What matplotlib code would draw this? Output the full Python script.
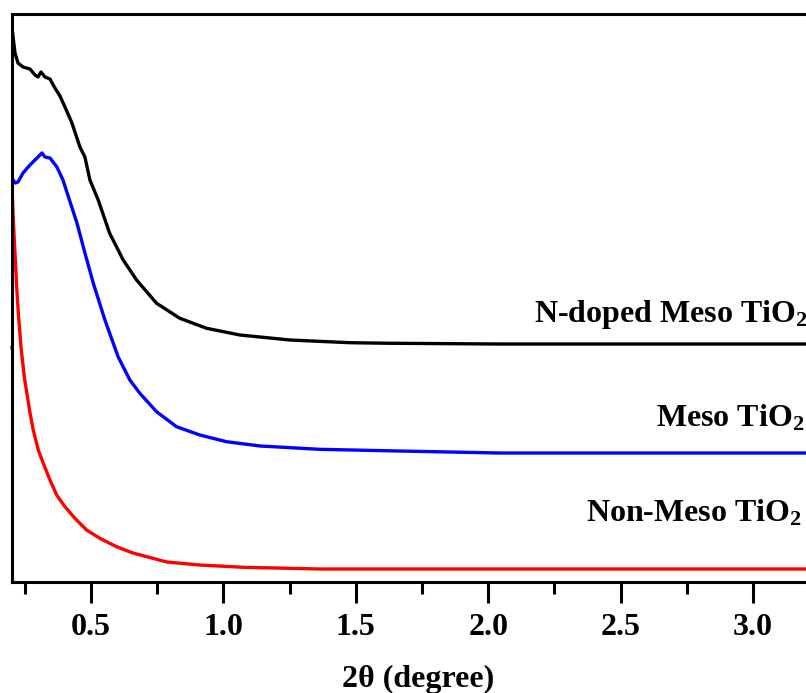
import matplotlib
matplotlib.use("Agg")
import matplotlib.pyplot as plt
from matplotlib.ticker import MultipleLocator

# Low-angle XRD patterns (intensity in arbitrary units, stacked)
x_ndoped = [0.2019, 0.2132, 0.2245, 0.2434, 0.2698, 0.2887, 0.3000, 0.3113, 0.3264,
            0.3452, 0.3641, 0.3830, 0.4018, 0.4282, 0.4584, 0.4772, 0.4961, 0.5274,
            0.5707, 0.6217, 0.6723, 0.7477, 0.8356, 0.9363, 1.0620, 1.2505, 1.4769,
            1.6278, 2.0427, 3.2000]
y_ndoped = [97.54, 93.13, 91.37, 90.67, 90.32, 89.26, 88.91, 89.79, 88.91,
            88.56, 86.97, 85.56, 83.63, 80.81, 76.58, 74.82, 70.77, 67.25,
            61.39, 56.69, 53.17, 49.07, 46.43, 44.67, 43.49, 42.61, 42.13,
            42.03, 41.90, 41.90]

x_meso = [0.2019, 0.2132, 0.2245, 0.2434, 0.2698, 0.2962, 0.3151, 0.3264, 0.3452,
          0.3716, 0.3943, 0.4271, 0.4471, 0.4773, 0.5086, 0.5527, 0.6029, 0.6470,
          0.6847, 0.7477, 0.8232, 0.9110, 1.0118, 1.1395, 1.3637, 1.6655, 2.0427,
          3.2000]
y_meso = [71.13, 70.25, 70.42, 72.01, 73.42, 74.65, 75.53, 74.82, 74.65,
          73.06, 70.77, 66.07, 63.20, 57.92, 52.64, 46.13, 39.61, 35.56,
          33.22, 29.98, 27.34, 25.88, 24.70, 23.94, 23.36, 23.06, 22.71,
          22.71]

x_nonmeso = [0.2008, 0.2068, 0.2132, 0.2196, 0.2257, 0.2358, 0.2483, 0.2698, 0.2822,
             0.3011, 0.3200, 0.3452, 0.3705, 0.4018, 0.4395, 0.4837, 0.5338, 0.5968,
             0.6580, 0.7866, 0.9111, 1.0744, 1.3637, 2.0427, 3.2000]
y_nonmeso = [70.77, 63.73, 57.92, 51.94, 47.36, 41.37, 36.09, 29.80, 26.76,
             23.24, 20.90, 17.96, 15.32, 13.26, 11.21, 9.15, 7.69, 6.21,
             5.11, 3.52, 2.99, 2.59, 2.29, 2.29, 2.29]

labels = ["N-doped Meso TiO$_2$", "Meso TiO$_2$", "Non-Meso TiO$_2$"]
label_x = [3.208, 3.193, 3.186]
label_y = [45.8, 27.3, 10.7]

plt.rcParams["font.family"] = ["Liberation Serif", "DejaVu Serif"]
plt.rcParams["font.weight"] = "bold"
plt.rcParams["mathtext.fontset"] = "custom"
plt.rcParams["mathtext.rm"] = "Liberation Serif:bold"
plt.rcParams["mathtext.it"] = "Liberation Serif:bold"
plt.rcParams["mathtext.bf"] = "Liberation Serif:bold"

W, H = 806, 693
fig = plt.figure(figsize=(W / 100, H / 100), dpi=100)
ax = fig.add_axes([11.5 / W, (H - 582) / H, (W - 11.5) / W, (582 - 14) / H])

lw = 2.4
ax.plot(x_ndoped, y_ndoped, color="black", lw=lw, solid_joinstyle="round")
ax.plot(x_meso, y_meso, color="#0000ff", lw=lw, solid_joinstyle="round")
ax.plot(x_nonmeso, y_nonmeso, color="#ff0000", lw=lw, solid_joinstyle="round")

ax.set_xlim(0.2, 3.2)
ax.set_ylim(0, 100)

for s in ("left", "top", "bottom"):
    ax.spines[s].set_linewidth(2.2)
ax.spines["right"].set_visible(False)

ax.xaxis.set_major_locator(MultipleLocator(0.5))
ax.xaxis.set_minor_locator(MultipleLocator(0.25))
ax.tick_params(axis="x", which="major", direction="out", length=15, width=2.2,
               pad=7, labelsize=23)
ax.tick_params(axis="x", which="minor", direction="out", length=8.5, width=2.2)
ax.set_xticks([0.5, 1.0, 1.5, 2.0, 2.5, 3.0])
ax.set_xticklabels(["0.5", "1.0", "1.5", "2.0", "2.5", "3.0"], fontweight="bold")

ax.set_yticks([41.4])
ax.set_yticklabels([])
ax.tick_params(axis="y", which="major", direction="out", length=1.5, width=2.5)
ax.tick_params(axis="y", which="minor", left=False)

ax.set_xlabel("2θ (degree)", fontsize=23, fontweight="bold")
ax.xaxis.label.set_va("baseline")
ax.xaxis.set_label_coords(0.5116, -0.1849)

for txt, tx, ty in zip(labels, label_x, label_y):
    ax.text(tx, ty, txt, ha="right", va="baseline", fontsize=23,
            fontweight="bold", clip_on=False)

fig.savefig("out.png", dpi=100)
